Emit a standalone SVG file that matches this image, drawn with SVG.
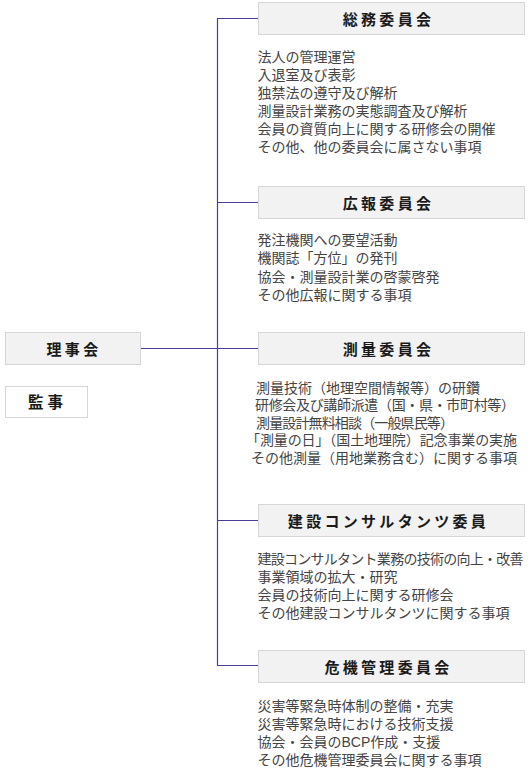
<svg xmlns="http://www.w3.org/2000/svg" width="531" height="779" viewBox="0 0 531 779">
<style>
.box{fill:#f2f2f2;stroke:#d6d6d6;stroke-width:1}
.box2{fill:#ffffff;stroke:#d6d6d6;stroke-width:1}
.title{font-family:"Liberation Sans","Noto Sans CJK JP",sans-serif;font-size:15px;font-weight:bold;fill:#1a1a1a;letter-spacing:3.3px;text-anchor:middle}
.item{font-family:"Liberation Sans","Noto Sans CJK JP",sans-serif;font-size:14px;fill:#444444}
.conn{fill:none;stroke:#4e3b9c;stroke-width:1.2}
</style>
<rect width="531" height="779" fill="#ffffff"/>
<g id="connectors">
<path class="conn" d="M258 18.5 H217.5 V665.5 H258"/>
<path class="conn" d="M217.5 202.5 H258"/>
<path class="conn" d="M140.5 348.5 H258"/>
<path class="conn" d="M217.5 520.5 H258"/>
</g>
<g id="rijikai">
<rect class="box" x="5.5" y="332.5" width="135" height="32"/>
<text class="title" x="74" y="355">理事会</text>
</g>
<g id="kanji">
<rect class="box2" x="5.5" y="386.5" width="82" height="31"/>
<text class="title" x="47.5" y="408" style="letter-spacing:4px;font-size:15.5px">監事</text>
</g>
<g id="somu">
<rect class="box" x="258.5" y="2.5" width="266" height="32"/>
<text class="title" x="388.5" y="24.5">総務委員会</text>
<text class="item" x="257.5" y="62">法人の管理運営</text>
<text class="item" x="257.5" y="79.9">入退室及び表彰</text>
<text class="item" x="257.5" y="97.8">独禁法の遵守及び解析</text>
<text class="item" x="257.5" y="115.7">測量設計業務の実態調査及び解析</text>
<text class="item" x="257.5" y="133.6">会員の資質向上に関する研修会の開催</text>
<text class="item" x="257.5" y="151.5">その他、他の委員会に属さない事項</text>
</g>
<g id="koho">
<rect class="box" x="258.5" y="186.5" width="266" height="32"/>
<text class="title" x="388.5" y="208.5">広報委員会</text>
<text class="item" x="257.5" y="244.7">発注機関への要望活動</text>
<text class="item" x="257.5" y="263.1">機関誌「方位」の発刊</text>
<text class="item" x="257.5" y="281.5">協会・測量設計業の啓蒙啓発</text>
<text class="item" x="257.5" y="299.9">その他広報に関する事項</text>
</g>
<g id="sokuryo">
<rect class="box" x="258.5" y="332.5" width="266" height="32"/>
<text class="title" x="388.5" y="354.5">測量委員会</text>
<text class="item" x="256" y="392.6">測量技術（地理空間情報等）の研鑽</text>
<text class="item" x="255" y="410.4" textLength="260" lengthAdjust="spacing">研修会及び講師派遣（国・県・市町村等）</text>
<text class="item" x="256" y="427.8" textLength="198" lengthAdjust="spacing">測量設計無料相談（一般県民等）</text>
<text class="item" x="246" y="445" textLength="271" lengthAdjust="spacing">「測量の日」（国土地理院）記念事業の実施</text>
<text class="item" x="251" y="462.5">その他測量（用地業務含む）に関する事項</text>
</g>
<g id="kensetsu">
<rect class="box" x="258.5" y="504.5" width="266" height="32"/>
<text class="title" x="388.5" y="526.5">建設コンサルタンツ委員</text>
<text class="item" x="257.5" y="563.5" textLength="266" lengthAdjust="spacing">建設コンサルタント業務の技術の向上・改善</text>
<text class="item" x="257.5" y="581.8">事業領域の拡大・研究</text>
<text class="item" x="257.5" y="600.1">会員の技術向上に関する研修会</text>
<text class="item" x="257.5" y="618.4">その他建設コンサルタンツに関する事項</text>
</g>
<g id="kiki">
<rect class="box" x="258.5" y="650.5" width="266" height="32"/>
<text class="title" x="388.5" y="672.5">危機管理委員会</text>
<text class="item" x="257.5" y="710.5">災害等緊急時体制の整備・充実</text>
<text class="item" x="257.5" y="728.6">災害等緊急時における技術支援</text>
<text class="item" x="257.5" y="746.7">協会・会員のBCP作成・支援</text>
<text class="item" x="257.5" y="764.8">その他危機管理委員会に関する事項</text>
</g>
</svg>
